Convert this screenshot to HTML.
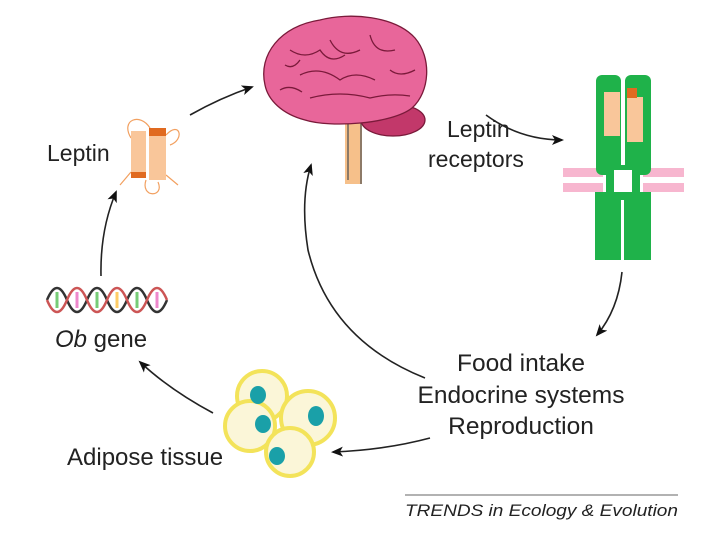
<!DOCTYPE html>
<html><head><meta charset="utf-8"><style>
html,body{margin:0;padding:0;background:#fff}
svg{display:block}
text{font-family:"Liberation Sans",sans-serif;fill:#222}
</style></head><body>
<svg width="720" height="540" viewBox="0 0 720 540">
<defs>
<marker id="ah" markerWidth="12" markerHeight="10" refX="10" refY="5" orient="auto" markerUnits="userSpaceOnUse">
<path d="M0,0 L12,5 L0,10 L3,5 Z" fill="#111"/></marker>
</defs>
<g fill="none" stroke="#222" stroke-width="1.6" marker-end="url(#ah)">
<path d="M190,115 Q220,98 252,87"/>
<path d="M486,115 Q520,140 562,140"/>
<path d="M622,272 Q618,310 597,335"/>
<path d="M430,438 Q385,450 333,452"/>
<path d="M213,413 Q170,390 140,362"/>
<path d="M101,276 Q100,230 116,192"/>
<path d="M425,378 Q330,340 308,250 Q300,200 311,165"/>
</g>
<!-- brain -->
<g stroke="#7a1a3a" stroke-width="1.3">
<rect x="345" y="118" width="17" height="66" fill="#f6c08a" stroke="none"/>
<path d="M348,118 L348,180 M361,118 L361,184" fill="none" stroke="#555"/>
<ellipse cx="393" cy="120" rx="32" ry="16" fill="#c2386a"/>
<path d="M265,85 C258,55 280,26 320,20 C350,12 395,16 415,38 C432,58 430,92 412,108 C392,124 330,128 305,120 C282,114 268,100 265,85 Z" fill="#e8669a"/>
<path d="M290,50 q15,10 30,0 q10,15 25,5 M300,75 q20,-10 40,5 q15,-10 35,0 M330,40 q10,20 30,10 M370,35 q5,20 25,15 M310,98 q30,-8 60,0 q20,-5 40,-2 M285,65 q8,5 15,-5 M390,70 q10,8 25,0 M280,90 q10,-6 22,2" fill="none"/>
</g>
<!-- leptin protein -->
<g stroke="#f2a060" stroke-width="1.2" fill="none">
<path d="M131,138 C120,120 140,112 150,128 M166,135 C180,120 185,140 170,145 M146,180 C140,198 165,198 158,182 M131,172 L120,185 M166,175 L178,185"/>
</g>
<rect x="131" y="131" width="15" height="47" fill="#f9c69a"/>
<rect x="131" y="172" width="15" height="6" fill="#e06a20"/>
<rect x="149" y="128" width="17" height="52" fill="#f9c69a"/>
<rect x="149" y="128" width="17" height="8" fill="#e06a20"/>
<text x="47" y="161" font-size="23">Leptin</text>
<!-- receptor -->
<g fill="#f7b6cf">
<rect x="563" y="168" width="40" height="9"/><rect x="563" y="183" width="40" height="9"/>
<rect x="643" y="168" width="41" height="9"/><rect x="643" y="183" width="41" height="9"/>
</g>
<rect x="596" y="75" width="25" height="100" rx="6" fill="#1fb24a"/>
<rect x="625" y="75" width="26" height="100" rx="6" fill="#1fb24a"/>
<rect x="606" y="165" width="34" height="35" fill="#1fb24a"/>
<rect x="614" y="170" width="18" height="22" fill="#fff"/>
<rect x="595" y="192" width="26" height="68" fill="#1fb24a"/>
<rect x="624" y="192" width="27" height="68" fill="#1fb24a"/>
<rect x="604" y="92" width="16" height="44" fill="#f9c69a"/>
<rect x="627" y="97" width="16" height="45" fill="#f9c69a"/>
<rect x="627" y="88" width="10" height="10" fill="#e06a20"/>
<text x="447" y="137" font-size="23">Leptin</text>
<text x="428" y="167" font-size="23">receptors</text>
<!-- DNA -->
<g fill="none" stroke-width="2.5">
<path d="M47,300 q10,-24 20,0 t20,0 t20,0 t20,0 t20,0 t20,0" stroke="#333"/>
<path d="M47,300 q10,24 20,0 t20,0 t20,0 t20,0 t20,0 t20,0" stroke="#c55"/>
</g>
<g stroke-width="3">
<line x1="57" y1="292" x2="57" y2="308" stroke="#7c7"/><line x1="77" y1="292" x2="77" y2="308" stroke="#e8c"/>
<line x1="97" y1="292" x2="97" y2="308" stroke="#7c7"/><line x1="117" y1="292" x2="117" y2="308" stroke="#fc6"/>
<line x1="137" y1="292" x2="137" y2="308" stroke="#7c7"/><line x1="157" y1="292" x2="157" y2="308" stroke="#e8c"/>
</g>
<text x="55" y="347" font-size="24"><tspan font-style="italic">Ob</tspan> gene</text>
<!-- adipose -->
<g fill="#fbf6d8" stroke="#f3e35a" stroke-width="4">
<circle cx="262" cy="396" r="25"/>
<circle cx="250" cy="426" r="25"/>
<circle cx="308" cy="418" r="27"/>
<circle cx="290" cy="452" r="24"/>
</g>
<g fill="#1aa0a8">
<ellipse cx="258" cy="395" rx="8" ry="9"/><ellipse cx="263" cy="424" rx="8" ry="9"/>
<ellipse cx="316" cy="416" rx="8" ry="10"/><ellipse cx="277" cy="456" rx="8" ry="9"/>
</g>
<text x="67" y="465" font-size="24">Adipose tissue</text>
<g font-size="24.5" text-anchor="middle">
<text x="521" y="371">Food intake</text>
<text x="521" y="403">Endocrine systems</text>
<text x="521" y="434">Reproduction</text>
</g>
<line x1="405" y1="495" x2="678" y2="495" stroke="#999" stroke-width="1.5"/>
<text x="405" y="516" font-size="17" font-style="italic" textLength="273" lengthAdjust="spacingAndGlyphs">TRENDS in Ecology &amp; Evolution</text>
</svg>
</body></html>
